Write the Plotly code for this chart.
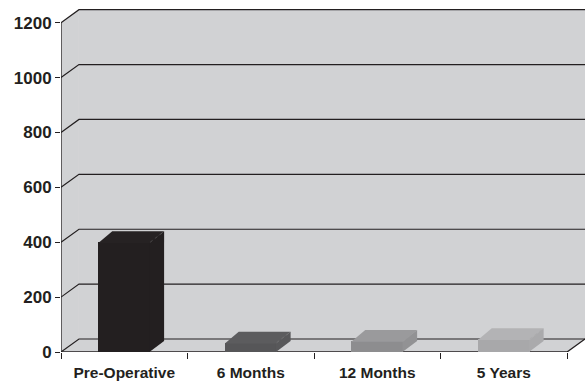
import plotly.graph_objects as go

# Data
categories = ["Pre-Operative", "6 Months", "12 Months", "5 Years"]
values = [400, 34, 40, 47]
front_colors = ["#231f20", "#565658", "#8d8d8f", "#a8a8aa"]
top_colors = ["#262223", "#5c5c5e", "#9a9a9c", "#b3b3b5"]
side_colors = ["#231f20", "#58585a", "#929294", "#aaaaac"]
y_ticks = [0, 200, 400, 600, 800, 1000, 1200]

# 3D look parameters (data units)
WALL_DX, WALL_DY = 0.142, 47.4     # depth of wall/floor
BAR_DX, BAR_DY = 0.11, 40.0        # depth of each column
BAR_W = 0.41
SEAM = 0.006                        # small overlap so faces meet without a gap
X0, X1 = -0.5, len(categories) - 0.5
YMAX = y_ticks[-1]

INK = "#231f20"
WALL = "#d1d2d4"

xs = list(range(len(categories)))
fig = go.Figure()

# Top and side faces, derived from each column's value (drawn under the fronts)
for xc, v, tc, sc in zip(xs, values, top_colors, side_colors):
    l, r = xc - BAR_W / 2, xc + BAR_W / 2
    fig.add_trace(go.Scatter(
        x=[r - SEAM, r - SEAM, r + BAR_DX, r + BAR_DX, r - SEAM],
        y=[0, v, v + BAR_DY, BAR_DY, 0],
        fill="toself", fillcolor=sc, mode="lines",
        line=dict(width=0),
        hoverinfo="skip", showlegend=False,
    ))
    fig.add_trace(go.Scatter(
        x=[l, l + BAR_DX, r + BAR_DX, r, l],
        y=[v - 3, v + BAR_DY, v + BAR_DY, v - 3, v - 3],
        fill="toself", fillcolor=tc, mode="lines",
        line=dict(width=0),
        hoverinfo="skip", showlegend=False,
    ))
    # faint edge between top and side faces
    fig.add_trace(go.Scatter(
        x=[r, r + BAR_DX], y=[v, v + BAR_DY], mode="lines",
        line=dict(width=0.7, color="rgba(160,160,160,0.45)", dash="dot"),
        hoverinfo="skip", showlegend=False,
    ))

# Front faces of the columns
fig.add_trace(go.Bar(
    x=xs, y=values, width=BAR_W,
    marker=dict(color=front_colors, line=dict(width=0)),
    hoverinfo="skip", showlegend=False,
))

shapes = []
# Back wall
shapes.append(dict(type="rect", xref="x", yref="y", layer="below",
                   x0=X0 + WALL_DX, x1=X1 + WALL_DX, y0=WALL_DY, y1=YMAX + WALL_DY,
                   fillcolor=WALL, line=dict(width=0)))
# Left side wall
shapes.append(dict(type="path", xref="x", yref="y", layer="below",
                   path=f"M{X0},0 L{X0},{YMAX} L{X0 + WALL_DX},{YMAX + WALL_DY} "
                        f"L{X0 + WALL_DX},{WALL_DY} Z",
                   fillcolor=WALL, line=dict(width=0)))
# Floor
shapes.append(dict(type="path", xref="x", yref="y", layer="below",
                   path=f"M{X0},0 L{X1},0 L{X1 + WALL_DX},{WALL_DY} "
                        f"L{X0 + WALL_DX},{WALL_DY} Z",
                   fillcolor=WALL, line=dict(width=0)))
# Gridlines running across the side wall and the back wall
for t in y_ticks:
    shapes.append(dict(type="path", xref="x", yref="y", layer="below",
                       path=f"M{X0},{t} L{X0 + WALL_DX},{t + WALL_DY} "
                            f"L{X1 + WALL_DX},{t + WALL_DY}",
                       line=dict(color=INK, width=1.2)))
# Front value axis line
shapes.append(dict(type="line", xref="x", yref="y", layer="below",
                   x0=X0, x1=X0, y0=0, y1=YMAX, line=dict(color=INK, width=1.3)))
# Front floor edge with its right-hand depth edge
shapes.append(dict(type="path", xref="x", yref="y", layer="below",
                   path=f"M{X0},0 L{X1},0 L{X1 + WALL_DX},{WALL_DY}",
                   line=dict(color=INK, width=1.3)))

fig.update_layout(
    width=585, height=383,
    margin=dict(l=61, r=0, t=9, b=31),
    paper_bgcolor="white", plot_bgcolor="white",
    shapes=shapes,
    showlegend=False,
    bargap=0,
    font=dict(family="Liberation Sans, Arial, sans-serif", color=INK),
    xaxis=dict(
        range=[X0, X1 + WALL_DX],
        tickmode="array", tickvals=xs,
        ticktext=[f"<b>{c}</b>" for c in categories],
        ticks="outside", ticklen=6, tickcolor="rgba(0,0,0,0)",
        tickfont=dict(size=15.5, color=INK),
        minor=dict(tickmode="array", tickvals=[i - 0.5 for i in range(len(categories) + 1)],
                   ticks="outside", ticklen=6, tickwidth=1, tickcolor=INK),
        showgrid=False, zeroline=False, showline=False, fixedrange=True,
    ),
    yaxis=dict(
        range=[0, 1250],
        tickmode="array", tickvals=y_ticks,
        ticktext=[f"<b>{t}</b>" for t in y_ticks],
        ticks="outside", ticklen=5, tickwidth=1, tickcolor=INK,
        tickfont=dict(size=17, color=INK),
        showgrid=False, zeroline=False, showline=False, fixedrange=True,
    ),
)

fig.write_html("out.html")
